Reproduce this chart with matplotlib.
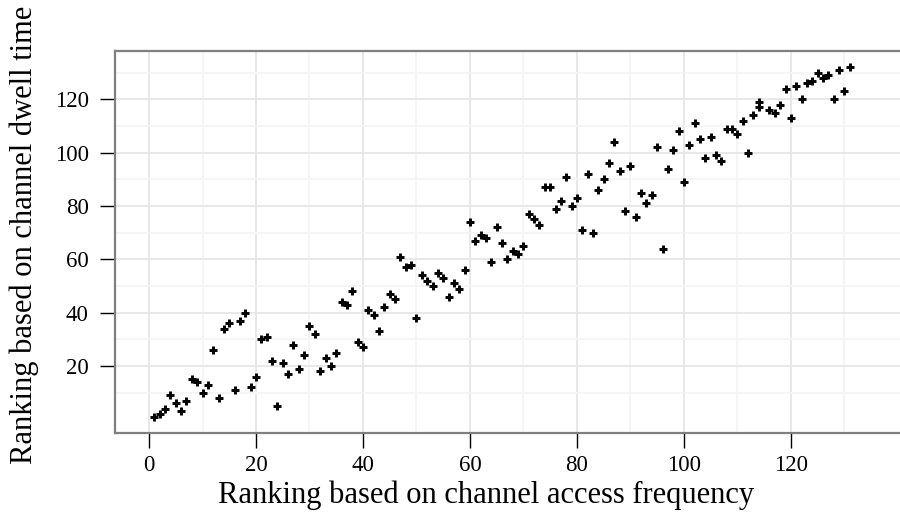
import matplotlib.pyplot as plt
from matplotlib.ticker import FixedLocator

# ranking data
x_rank = [1, 2, 3, 4, 5, 6, 7, 8, 9, 10,
          11, 12, 13, 14, 15, 16, 17, 18, 19, 20,
          21, 22, 23, 24, 25, 26, 27, 28, 29, 30,
          31, 32, 33, 34, 35, 36, 37, 38, 39, 40,
          41, 42, 43, 44, 45, 46, 47, 48, 49, 50,
          51, 52, 53, 54, 55, 56, 57, 58, 59, 60,
          61, 62, 63, 64, 65, 66, 67, 68, 69, 70,
          71, 72, 73, 74, 75, 76, 77, 78, 79, 80,
          81, 82, 83, 84, 85, 86, 87, 88, 89, 90,
          91, 92, 93, 94, 95, 96, 97, 98, 99, 100,
          101, 102, 103, 104, 105, 106, 107, 108, 109, 110,
          111, 112, 113, 114, 114, 116, 117, 118, 119, 120,
          121, 122, 123, 124, 125, 126, 127, 128, 129, 130,
          131]
y_rank = [1, 2, 4, 9, 6, 3, 7, 15, 14, 10,
          13, 26, 8, 34, 36, 11, 37, 40, 12, 16,
          30, 31, 22, 5, 21, 17, 28, 19, 24, 35,
          32, 18, 23, 20, 25, 44, 43, 48, 29, 27,
          41, 39, 33, 42, 47, 45, 61, 57, 58, 38,
          54, 52, 50, 55, 53, 46, 51, 49, 56, 74,
          67, 69, 68, 59, 72, 66, 60, 63, 62, 65,
          77, 75, 73, 87, 87, 79, 82, 91, 80, 83,
          71, 92, 70, 86, 90, 96, 104, 93, 78, 95,
          76, 85, 81, 84, 102, 64, 94, 101, 108, 89,
          103, 111, 105, 98, 106, 99, 97, 109, 109, 107,
          112, 100, 114, 117, 119, 116, 115, 118, 124, 113,
          125, 120, 126, 127, 130, 128, 129, 120, 131, 123,
          132]

x_ticks = [0, 20, 40, 60, 80, 100, 120]
y_ticks = [20, 40, 60, 80, 100, 120]
minor_ticks = [10, 30, 50, 70, 90, 110, 130]

plt.rcParams['font.family'] = ['Liberation Serif', 'DejaVu Serif']

fig = plt.figure(figsize=(9, 5.23), dpi=100)
ax = fig.add_axes([0.1278, 0.1721, 0.8722, 0.7304])

ax.scatter(x_rank, y_rank, marker='+', s=36, linewidths=2.1, color='black', zorder=3)

ax.set_xlim(-6.36, 140.4)
ax.set_ylim(-5.14, 138.1)

ax.xaxis.set_major_locator(FixedLocator(x_ticks))
ax.yaxis.set_major_locator(FixedLocator(y_ticks))
ax.xaxis.set_minor_locator(FixedLocator(minor_ticks))
ax.yaxis.set_minor_locator(FixedLocator(minor_ticks))

ax.grid(which='major', color='#e6e6e6', linewidth=1.3)
ax.grid(which='minor', color='#f4f4f4', linewidth=1.3)
ax.set_axisbelow(True)

for side in ['left', 'bottom', 'top']:
    ax.spines[side].set_color('#7f7f7f')
    ax.spines[side].set_linewidth(1.6)
ax.spines['right'].set_visible(False)

ax.tick_params(which='major', direction='out', length=11, width=1.0, color='black',
               labelsize=16.5)
ax.tick_params(axis='x', which='major', pad=5)
ax.tick_params(axis='y', which='major', pad=8)
ax.tick_params(which='minor', length=0)

ax.set_xlabel("Ranking based on channel access frequency", fontsize=22, labelpad=3)
ax.set_ylabel("Ranking based on channel dwell time", fontsize=22, labelpad=11)
# labels are centred a bit off the panel middle in the original
ax.xaxis.label.set_x(0.4726)
ax.yaxis.label.set_y(0.518)

fig.savefig("out.png", dpi=100)
